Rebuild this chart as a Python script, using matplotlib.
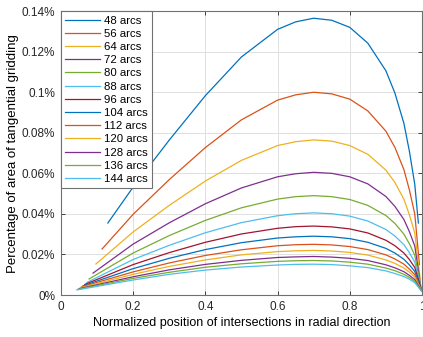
import matplotlib
matplotlib.use('Agg')
import matplotlib.pyplot as plt
from matplotlib.ticker import FuncFormatter

plt.rcParams['font.family'] = ['Liberation Sans', 'DejaVu Sans']

# arcs count of each curve
arcs = [48, 56, 64, 72, 80, 88, 96, 104, 112, 120, 128, 136, 144]

# inner x positions (common to all curves), start/end x differ per curve
x_mid = [0.2, 0.3, 0.4, 0.5, 0.6, 0.65, 0.7, 0.75, 0.8, 0.85, 0.9, 0.925, 0.95, 0.965, 0.98]
x_start = [0.13, 0.114, 0.097, 0.089, 0.078, 0.072, 0.066, 0.061, 0.057, 0.053, 0.050, 0.047, 0.044]
x_end = [0.99, 0.993, 0.995, 0.996, 0.997, 0.997, 0.998, 0.998, 0.998, 0.999, 0.999, 0.999, 0.999]

# percentage values (in %), first = start, last = end
y48 = [0.0355, 0.0532, 0.0764, 0.0983, 0.1174, 0.1310, 0.1347, 0.1365, 0.1355, 0.1320, 0.1242, 0.1106, 0.0996, 0.0846, 0.0710, 0.0546, 0.0355]
y56 = [0.0227, 0.0398, 0.0569, 0.0727, 0.0864, 0.0961, 0.0987, 0.1000, 0.0992, 0.0966, 0.0908, 0.0808, 0.0728, 0.0618, 0.0519, 0.0400, 0.0150]
y64 = [0.0153, 0.0311, 0.0442, 0.0562, 0.0664, 0.0737, 0.0756, 0.0765, 0.0759, 0.0737, 0.0694, 0.0616, 0.0555, 0.0472, 0.0396, 0.0306, 0.0080]
y72 = [0.0108, 0.0251, 0.0356, 0.0450, 0.0528, 0.0583, 0.0598, 0.0605, 0.0600, 0.0583, 0.0548, 0.0486, 0.0437, 0.0372, 0.0313, 0.0242, 0.0050]
y80 = [0.0079, 0.0207, 0.0293, 0.0368, 0.0430, 0.0473, 0.0485, 0.0490, 0.0485, 0.0471, 0.0442, 0.0392, 0.0353, 0.0300, 0.0253, 0.0196, 0.0040]
y88 = [0.0062, 0.0175, 0.0245, 0.0307, 0.0357, 0.0391, 0.0401, 0.0405, 0.0401, 0.0389, 0.0365, 0.0323, 0.0291, 0.0248, 0.0209, 0.0162, 0.0035]
y96 = [0.0052, 0.0150, 0.0209, 0.0260, 0.0301, 0.0329, 0.0337, 0.0340, 0.0336, 0.0326, 0.0306, 0.0270, 0.0243, 0.0207, 0.0175, 0.0136, 0.0030]
y104 = [0.0045, 0.0130, 0.0181, 0.0224, 0.0258, 0.0281, 0.0287, 0.0290, 0.0287, 0.0278, 0.0260, 0.0230, 0.0207, 0.0176, 0.0149, 0.0116, 0.0027]
y112 = [0.0040, 0.0114, 0.0158, 0.0195, 0.0223, 0.0243, 0.0248, 0.0250, 0.0247, 0.0239, 0.0224, 0.0198, 0.0178, 0.0152, 0.0128, 0.0100, 0.0024]
y120 = [0.0035, 0.0102, 0.0141, 0.0173, 0.0198, 0.0214, 0.0218, 0.0220, 0.0217, 0.0210, 0.0197, 0.0173, 0.0156, 0.0133, 0.0113, 0.0088, 0.0022]
y128 = [0.0031, 0.0090, 0.0124, 0.0151, 0.0171, 0.0185, 0.0188, 0.0190, 0.0187, 0.0181, 0.0170, 0.0149, 0.0134, 0.0115, 0.0097, 0.0076, 0.0020]
y136 = [0.0028, 0.0082, 0.0112, 0.0137, 0.0154, 0.0166, 0.0169, 0.0170, 0.0168, 0.0162, 0.0152, 0.0133, 0.0120, 0.0102, 0.0087, 0.0068, 0.0019]
y144 = [0.0025, 0.0074, 0.0102, 0.0123, 0.0138, 0.0148, 0.0151, 0.0152, 0.0150, 0.0144, 0.0135, 0.0119, 0.0106, 0.0091, 0.0078, 0.0061, 0.0018]
ys = [y48, y56, y64, y72, y80, y88, y96, y104, y112, y120, y128, y136, y144]

x_ticks = [0, 0.2, 0.4, 0.6, 0.8, 1]
y_ticks = [0, 0.02, 0.04, 0.06, 0.08, 0.1, 0.12, 0.14]

# matlab default colour order
colors = ['#0072BD', '#D95319', '#EDB120', '#7E2F8E', '#77AC30', '#4DBEEE', '#A2142F']

fig = plt.figure(figsize=(4.23, 3.37), dpi=100)
ax = fig.add_axes([0.144, 0.1246, 0.8536, 0.8424])

for i, n in enumerate(arcs):
    xx = [x_start[i]] + x_mid + [x_end[i]]
    ax.plot(xx, ys[i], color=colors[i % 7], lw=0.9, label='%d arcs' % n)

ax.set_xlim(0, 1)
ax.set_ylim(0, 0.14)
ax.set_xticks(x_ticks)
ax.set_yticks(y_ticks)
ax.xaxis.set_major_formatter(FuncFormatter(lambda v, p: '%g' % v))
ax.yaxis.set_major_formatter(FuncFormatter(lambda v, p: '%g%%' % round(v, 3)))
ax.grid(True, color='#e0e0e0', lw=0.7)
ax.set_axisbelow(True)
ax.tick_params(direction='in', length=3, width=0.6, top=True, right=True,
               labelsize=8.5, colors='#262626', pad=4)
for s in ax.spines.values():
    s.set_color('#707070')
    s.set_linewidth(0.8)

ax.set_xlabel('Normalized position of intersections in radial direction', fontsize=9, labelpad=3)
ax.set_ylabel('Percentage of area of tangential gridding', fontsize=9.5, labelpad=2)

leg = ax.legend(loc='upper left', fontsize=8.2, borderaxespad=0, fancybox=False,
                handlelength=3.0, labelspacing=0.28, handletextpad=0.35,
                borderpad=0.4, framealpha=1)
leg.get_frame().set_edgecolor('#707070')
leg.get_frame().set_linewidth(0.8)

fig.savefig('out.png', dpi=100)
